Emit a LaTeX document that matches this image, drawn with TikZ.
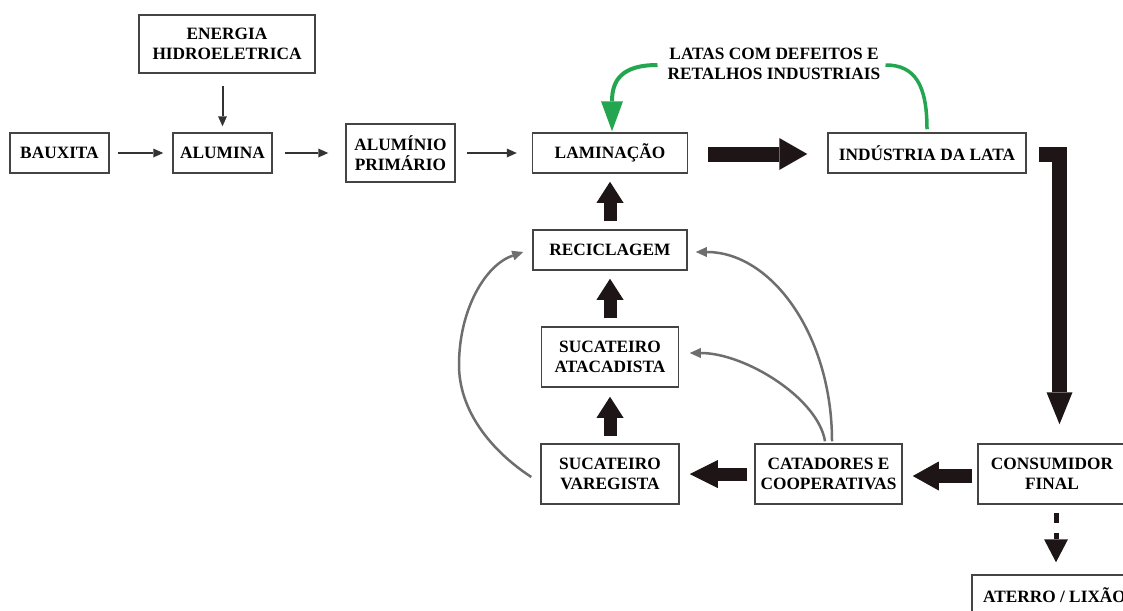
\documentclass[tikz,border=0pt]{standalone}
\usepackage{fontspec}
\setmainfont{Liberation Serif}
\usetikzlibrary{arrows.meta,calc}
\definecolor{boxline}{HTML}{444444}
\definecolor{thinline}{HTML}{333333}
\definecolor{curvegray}{HTML}{6E6E6E}
\definecolor{heavy}{HTML}{1E1616}
\definecolor{scrapgreen}{HTML}{23A64F}

\begin{document}
\begin{tikzpicture}[x=1pt,y=-1pt,
  every node/.style={font=\bfseries\fontsize{17.3}{20}\selectfont, text=black},
  box/.style={draw=boxline, line width=1.5pt, align=center, inner sep=0pt, fill=white},
  thinarrow/.style={draw=thinline, line width=2pt, -{Triangle[length=10pt,width=9pt,line width=0pt]}},
  loop/.style={draw=curvegray, line width=2.5pt, -{Triangle[length=11pt,width=10pt,line width=0pt]}},
  heavyarrow/.style={draw=heavy, line width=13pt, -{Triangle[length=21pt,width=27pt,line width=0pt]}},
  greenarrow/.style={draw=scrapgreen, line width=4pt}
]
\useasboundingbox (0,0) rectangle (1123,610);
\fill[white] (0,0) rectangle (1123,610);
\clip (0,0) rectangle (1123,610);

% production chain
\node[box, minimum width=176pt, minimum height=58pt] (energia) at (227,44) {ENERGIA\\HIDROELETRICA};
\node[box, minimum width=99pt, minimum height=40pt] (baux) at (59.5,153) {BAUXITA};
\node[box, minimum width=99pt, minimum height=40pt] (alum) at (222.5,153) {ALUMINA};
\node[box, minimum width=109pt, minimum height=58pt] (prim) at (400.5,153) {ALUMÍNIO\\PRIMÁRIO};
\node[box, minimum width=155pt, minimum height=40pt] (lam) at (610,153) {LAMINAÇÃO};
\node[box, minimum width=198pt, minimum height=40pt] (ind) at (927,153) {INDÚSTRIA DA LATA};

% recycling column
\node[box, minimum width=154pt, minimum height=40pt] (rec) at (610,250) {RECICLAGEM};
\node[box, minimum width=137pt, minimum height=60pt] (atac) at (610,357) {SUCATEIRO\\ATACADISTA};
\node[box, minimum width=138pt, minimum height=60pt] (vare) at (610,474) {SUCATEIRO\\VAREGISTA};
\node[box, minimum width=147pt, minimum height=60pt] (cat) at (828.5,474) {CATADORES E\\COOPERATIVAS};
\node[box, minimum width=148pt, minimum height=60pt] (cons) at (1052,474) {CONSUMIDOR\\FINAL};
\node[box, minimum width=165pt, minimum height=40pt] (aterro) at (1054.5,595) {ATERRO / LIXÃO};

% scrap label
\node[align=center, inner sep=0pt] (note) at (774,64) {LATAS COM DEFEITOS E\\RETALHOS INDUSTRIAIS};

% thin arrows
\draw[thinarrow] ($(baux.east)+(8,0)$) -- ($(alum.west)+(-9,0)$);
\draw[thinarrow] ($(alum.east)+(12,0)$) -- ($(prim.west)+(-17,0)$);
\draw[thinarrow] ($(prim.east)+(11,0)$) -- ($(lam.west)+(-15,0)$);
\draw[thinarrow] ($(alum.north |- energia.south)+(0,12)$) -- ($(alum.north)+(0,-6)$);

% heavy arrows
\draw[heavyarrow, line width=15pt, -{Triangle[length=28pt,width=32pt,line width=0pt]}]
  ($(lam.east)+(20,1)$) -- ($(ind.west)+(-20,1)$);
\draw[heavyarrow] ($(rec.north)+(0,-8)$) -- ($(lam.south)+(0,8)$);
\draw[heavyarrow] ($(atac.north)+(0,-8)$) -- ($(rec.south)+(0,8)$);
\draw[heavyarrow] ($(vare.north)+(0,-7)$) -- ($(atac.south)+(0,9)$);
\draw[heavyarrow, -{Triangle[length=28pt,width=28pt,line width=0pt]}]
  ($(cat.west)+(-7,0)$) -- ($(vare.east)+(10,0)$);
\draw[heavyarrow, line width=14pt, -{Triangle[length=26pt,width=29pt,line width=0pt]}]
  ($(cons.west)+(-5,2)$) -- ($(cat.east)+(10,2)$);

% can industry down to the consumer
\coordinate (drop) at ($(cons.north)+(7.5,-19)$);
\draw[heavyarrow, line width=15pt, line join=miter, -{Triangle[length=32pt,width=26pt,line width=0pt]}]
  ($(ind.east)+(12,1.5)$) -| (drop);

% consumer to landfill
\draw[draw=heavy, line width=5pt, dash pattern=on 10pt off 10pt on 40pt off 1pt,
  -{Triangle[length=23pt,width=24pt,line width=0pt]}]
  ($(cons.south)+(4,8)$) -- ($(aterro.north)+(1.5,-12)$);

% collection loops
\draw[loop] ($(cat.north)+(3.5,-2)$) .. controls (832,336) and (772,252) .. ($(rec.east)+(8,2)$);
\draw[loop] ($(cat.north)+(-3.5,-2)$) .. controls (818,398) and (745,353) .. ($(atac.east)+(10.5,-4)$);
\draw[loop] ($(vare.west)+(-9,3)$) .. controls (490,450) and (459,410) .. (459,365)
  .. controls (459,310) and (485,265) .. ($(rec.west)+(-9,2)$);

% industrial scrap back to rolling
\draw[greenarrow, -{Triangle[length=30pt,width=22pt,line width=0pt]}]
  ($(note.west)+(-10,1)$) .. controls (622,65) and (612,80) .. ($(lam.north)+(2,-1)$);
\draw[greenarrow, line width=3.5pt]
  ($(note.east)+(5,1)$) .. controls (915,65) and (927,85) .. ($(ind.north)+(0,-3)$);
\end{tikzpicture}
\end{document}
